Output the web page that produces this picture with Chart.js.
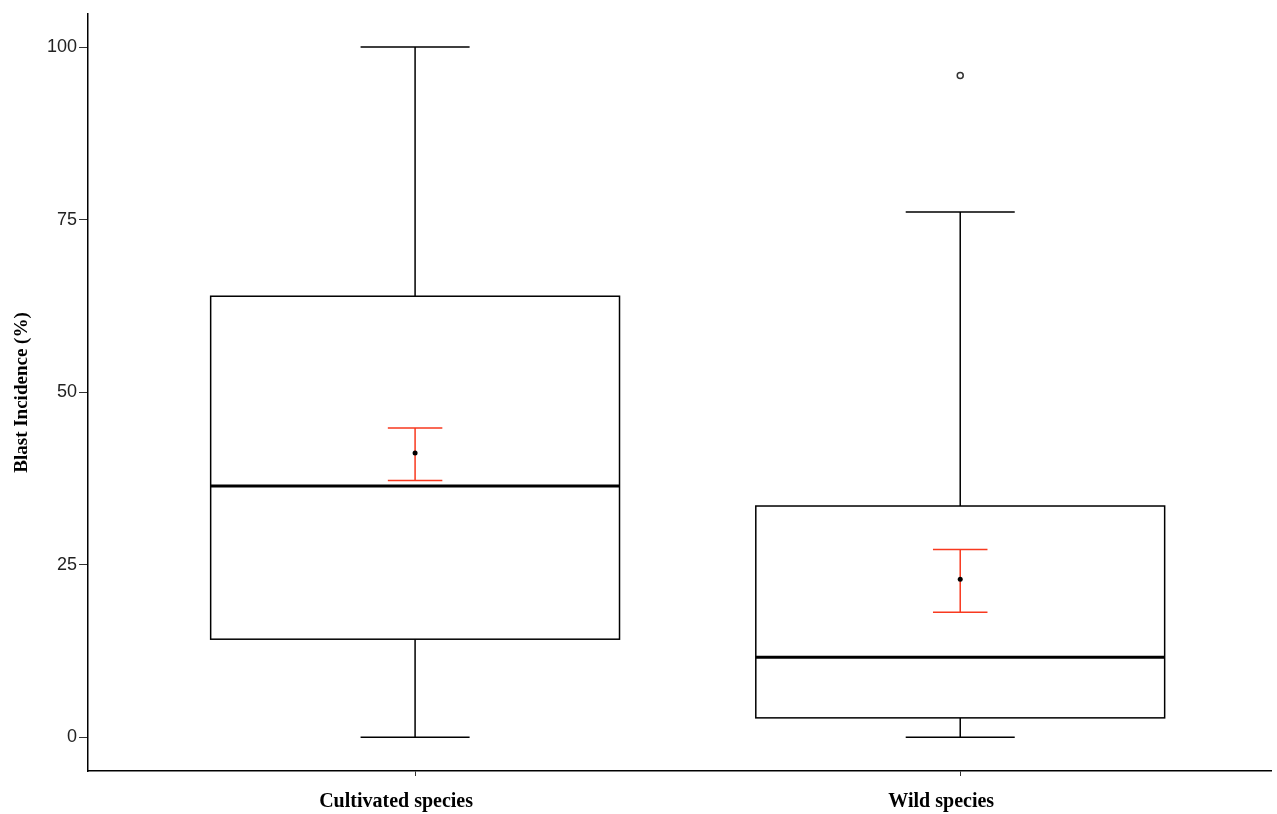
<!DOCTYPE html>
<html>
<head>
<meta charset="utf-8">
<script src="https://cdn.jsdelivr.net/npm/chart.js@4"></script>
<style>
  html, body { margin: 0; padding: 0; background: #fff; overflow: hidden; }
  #myChart { display: block; }
</style>
</head>
<body>
<canvas id="myChart" width="1277" height="814" style="width:1277px;height:814px"></canvas>
<script>
const categories = ["Cultivated species", "Wild species"];
const whiskerLow = [0, 0];
const q1 = [14.2, 2.8];
const median = [36.4, 11.6];
const q3 = [63.9, 33.5];
const whiskerHigh = [100, 76.1];
const means = [41.2, 22.9];
const errLow = [37.2, 18.1];
const errHigh = [44.8, 27.2];
const outlierGroup = [2];
const outlierValue = [95.9];
const yTicks = [0, 25, 50, 75, 100];

// box, whisker cap and error cap half widths (in x units)
const boxHalf = 0.375;
const capHalf = 0.1;
const errHalf = 0.05;

const boxPlugin = {
  id: "boxes",
  beforeDatasetsDraw(chart) {
    const c = chart.ctx;
    const x = chart.scales.x;
    const y = chart.scales.y;
    c.save();
    categories.forEach((cat, i) => {
      const pos = i + 1;
      const xc = x.getPixelForValue(pos);
      const xl = x.getPixelForValue(pos - boxHalf);
      const xr = x.getPixelForValue(pos + boxHalf);
      const cl = x.getPixelForValue(pos - capHalf);
      const cr = x.getPixelForValue(pos + capHalf);
      c.strokeStyle = "#000";
      c.lineWidth = 1.5;
      // whiskers
      c.beginPath();
      c.moveTo(xc, y.getPixelForValue(q3[i]));
      c.lineTo(xc, y.getPixelForValue(whiskerHigh[i]));
      c.moveTo(xc, y.getPixelForValue(q1[i]));
      c.lineTo(xc, y.getPixelForValue(whiskerLow[i]));
      c.moveTo(cl, y.getPixelForValue(whiskerHigh[i]));
      c.lineTo(cr, y.getPixelForValue(whiskerHigh[i]));
      c.moveTo(cl, y.getPixelForValue(whiskerLow[i]));
      c.lineTo(cr, y.getPixelForValue(whiskerLow[i]));
      c.stroke();
      // box
      const yt = y.getPixelForValue(q3[i]);
      const yb = y.getPixelForValue(q1[i]);
      c.fillStyle = "#fff";
      c.fillRect(xl, yt, xr - xl, yb - yt);
      c.strokeRect(xl, yt, xr - xl, yb - yt);
      // median
      c.lineWidth = 3;
      c.beginPath();
      c.moveTo(xl, y.getPixelForValue(median[i]));
      c.lineTo(xr, y.getPixelForValue(median[i]));
      c.stroke();
      // error bar
      const el = x.getPixelForValue(pos - errHalf);
      const er = x.getPixelForValue(pos + errHalf);
      c.strokeStyle = "#f8391f";
      c.lineWidth = 1.5;
      c.beginPath();
      c.moveTo(xc, y.getPixelForValue(errLow[i]));
      c.lineTo(xc, y.getPixelForValue(errHigh[i]));
      c.moveTo(el, y.getPixelForValue(errHigh[i]));
      c.lineTo(er, y.getPixelForValue(errHigh[i]));
      c.moveTo(el, y.getPixelForValue(errLow[i]));
      c.lineTo(er, y.getPixelForValue(errLow[i]));
      c.stroke();
    });
    c.restore();
  }
};

const ctx = document.getElementById("myChart");

const myChart = new Chart(ctx, {
  type: "scatter",
  data: {
    datasets: [
      {
        label: "Mean",
        data: categories.map((c, i) => ({ x: i + 1, y: means[i] })),
        pointRadius: 2.5,
        pointBackgroundColor: "#000",
        pointBorderColor: "#000",
        pointBorderWidth: 0,
      },
      {
        label: "Outliers",
        data: outlierGroup.map((g, i) => ({ x: g, y: outlierValue[i] })),
        pointRadius: 3,
        pointBackgroundColor: "#fff",
        pointBorderColor: "#333",
        pointBorderWidth: 1.5,
      },
    ],
  },
  plugins: [boxPlugin],
  options: {
    responsive: false,
    animation: false,
    devicePixelRatio: 1,
    layout: { padding: { top: 14, right: 0, left: 0, bottom: 0 } },
    plugins: {
      legend: { display: false },
      tooltip: { enabled: false },
    },
    scales: {
      x: {
        type: "linear",
        min: 0.4,
        max: 2.571,
        afterBuildTicks: (scale) => {
          scale.ticks = categories.map((c, i) => ({ value: i + 1 }));
        },
        afterFit: (scale) => {
          scale.height = 43;
        },
        ticks: {
          callback: (v) => categories[v - 1],
          color: "#000",
          padding: 14,
          labelOffset: -19,
          maxRotation: 0,
          font: { family: "Liberation Serif", size: 20, weight: "bold" },
        },
        grid: { drawOnChartArea: false, drawTicks: true, tickLength: 5, color: "#333" },
        border: { display: true, color: "#000", width: 1.5 },
      },
      y: {
        min: -4.9,
        max: 104.8,
        afterBuildTicks: (scale) => {
          scale.ticks = yTicks.map((v) => ({ value: v }));
        },
        afterFit: (scale) => {
          scale.width = 88;
        },
        ticks: {
          color: "#222",
          padding: 2,
          font: { family: "Liberation Sans", size: 18 },
        },
        title: {
          display: true,
          text: "Blast Incidence (%)",
          color: "#000",
          padding: { top: 11, bottom: 0 },
          font: { family: "Liberation Serif", size: 19, weight: "bold" },
        },
        grid: { drawOnChartArea: false, drawTicks: true, tickLength: 9, color: "#333" },
        border: { display: true, color: "#000", width: 1.5 },
      },
    },
  },
});
</script>
</body>
</html>
